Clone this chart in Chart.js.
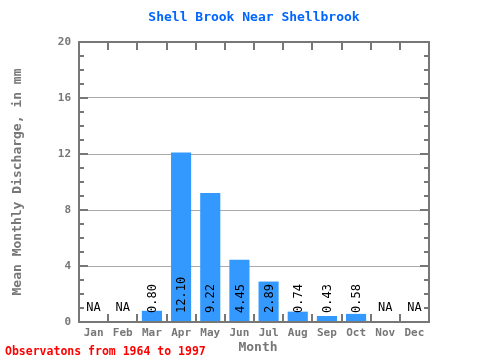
<!DOCTYPE html>
<html><head><meta charset="utf-8">
<script src="https://cdn.jsdelivr.net/npm/chart.js@4/dist/chart.umd.min.js"></script>
<style>html,body{margin:0;padding:0;background:#fff}canvas{display:block}</style>
</head><body><canvas id="c" width="480" height="360"></canvas>
<script>
const months = ['Jan','Feb','Mar','Apr','May','Jun','Jul','Aug','Sep','Oct','Nov','Dec'];
const discharge = [null, null, 0.80, 12.10, 9.22, 4.45, 2.89, 0.74, 0.43, 0.58, null, null];
const valueLabels = ['NA','NA','0.80','12.10','9.22','4.45','2.89','0.74','0.43','0.58','NA','NA'];
const yTicks = [0, 4, 8, 12, 16, 20];
const titleText = 'Shell Brook Near Shellbrook';
const xTitle = 'Month';
const yTitle = 'Mean Monthly Discharge, in mm';
const footerText = 'Observatons from 1964 to 1997';

const MONO = '"DejaVu Sans Mono", "Liberation Mono", monospace';
const GREY = '#777777';

const decor = {
  id: 'decor',
  afterDatasetsDraw(chart) {
    const ctx = chart.ctx;
    const a = chart.chartArea;
    const xs = chart.scales.x, ys = chart.scales.y;
    ctx.save();
    // value labels
    const meta = chart.getDatasetMeta(0);
    const base = ys.getPixelForValue(0);
    ctx.fillStyle = '#000';
    ctx.font = '12px ' + MONO;
    for (let i = 0; i < months.length; i++) {
      const x = xs.getPixelForValue(i);
      if (discharge[i] === null) {
        ctx.textAlign = 'center'; ctx.textBaseline = 'middle';
        ctx.fillText(valueLabels[i], x, base - 14);
      } else {
        ctx.save();
        ctx.translate(x, base - 9);
        ctx.rotate(-Math.PI / 2);
        ctx.textAlign = 'left'; ctx.textBaseline = 'middle';
        ctx.fillText(valueLabels[i], 0, 1);
        ctx.restore();
      }
    }
    // inward ticks
    ctx.strokeStyle = GREY; ctx.lineWidth = 2;
    ctx.beginPath();
    for (let v = 0; v <= 20; v++) {
      const y = Math.round(ys.getPixelForValue(v));
      const len = (v % 4 === 0) ? 9 : 5;
      ctx.moveTo(a.left, y); ctx.lineTo(a.left + len, y);
      ctx.moveTo(a.right, y); ctx.lineTo(a.right - len, y);
    }
    const w = (a.right - a.left) / months.length;
    for (let i = 1; i < months.length; i++) {
      const x = Math.round(a.left + i * w);
      ctx.moveTo(x, a.top); ctx.lineTo(x, a.top + 8);
      ctx.moveTo(x, a.bottom); ctx.lineTo(x, a.bottom - 8);
    }
    ctx.stroke();
    // frame
    ctx.strokeRect(a.left, a.top, a.right - a.left, a.bottom - a.top);
    // title
    ctx.fillStyle = '#0066ff';
    ctx.font = 'bold 13px ' + MONO;
    ctx.textAlign = 'center'; ctx.textBaseline = 'middle';
    ctx.fillText(titleText, (a.left + a.right) / 2, 18);
    // x title
    ctx.fillStyle = GREY;
    ctx.font = 'bold 13px ' + MONO;
    ctx.fillText(xTitle, (a.left + a.right) / 2 + 4, 348);
    // y title
    ctx.save();
    ctx.translate(18, (a.top + a.bottom) / 2);
    ctx.rotate(-Math.PI / 2);
    ctx.fillText(yTitle, 0, 0);
    ctx.restore();
    // footer
    ctx.fillStyle = '#ff0000';
    ctx.font = 'bold 11.5px ' + MONO;
    ctx.textAlign = 'left';
    ctx.fillText(footerText, 5, 352);
    ctx.restore();
  }
};

new Chart(document.getElementById('c'), {
  type: 'bar',
  data: {
    labels: months,
    datasets: [{
      data: discharge,
      backgroundColor: '#3399ff',
      borderWidth: 0,
      barPercentage: 0.69,
      categoryPercentage: 1.0
    }]
  },
  options: {
    responsive: false,
    animation: false,
    devicePixelRatio: 1,
    layout: { padding: { left: 0, right: 51, top: 42, bottom: 0 } },
    plugins: { legend: { display: false }, tooltip: { enabled: false }, title: { display: false } },
    scales: {
      x: {
        offset: true,
        grid: { display: false, drawTicks: false },
        border: { display: false },
        ticks: { color: GREY, font: { family: MONO, size: 11, weight: 'bold' }, padding: 5, maxRotation: 0, autoSkip: false },
        afterFit(s) { s.height = 38; }
      },
      y: {
        min: 0, max: 20,
        afterBuildTicks(s) { s.ticks = yTicks.map(v => ({ value: v })); },
        grid: { color: '#aaaaaa', lineWidth: 1, drawTicks: false },
        border: { display: false },
        ticks: { color: GREY, font: { family: MONO, size: 11, weight: 'bold' }, padding: 8 },
        afterFit(s) { s.width = 79; }
      }
    }
  },
  plugins: [decor]
});
</script>
</body></html>
